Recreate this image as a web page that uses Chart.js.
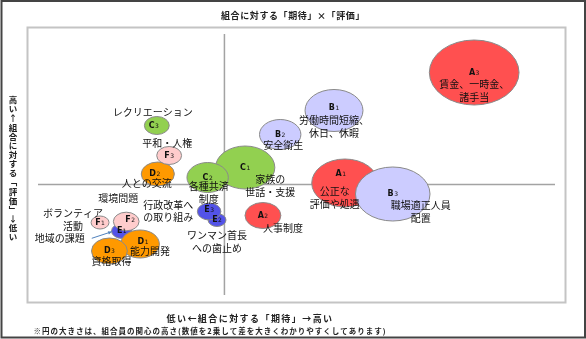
<!DOCTYPE html>
<html lang="ja">
<head>
<meta charset="utf-8">
<title>組合に対する「期待」×「評価」</title>
<script src="https://cdn.jsdelivr.net/npm/chart.js@4.4.0/dist/chart.umd.min.js"></script>
<style>
  body { margin: 0; background: #fff; }
  canvas { display: block; }
</style>
</head>
<body>
<canvas id="matrix" width="586" height="339"></canvas>
<script>
// 項目コードと名称
const codes = ['A1', 'A2', 'A3', 'B1', 'B2', 'B3', 'C1', 'C2', 'C3',
               'D1', 'D2', 'D3', 'E1', 'E2', 'E3', 'F1', 'F2', 'F3'];
const names = ['公正な\n評価や処遇', '人事制度', '賃金、一時金、\n諸手当',
               '労働時間短縮、\n休日、休暇', '安全衛生', '職場適正人員\n配置',
               '家族の\n世話・支援', '各種共済\n制度', 'レクリエーション',
               '能力開発', '人との交流', '資格取得',
               '地域の課題', 'ワンマン首長\nへの歯止め', '行政改革へ\nの取り組み',
               'ボランティア\n活動', '環境問題', '平和・人権'];
// 期待(横)・評価(縦)：平均からの差
const expectation = [24.4, 7.8, 50.6, 22.2, 11.3, 34.1, 4.2, -3.4, -13.7,
                     -17.1, -13.5, -23.3, -20.8, -1.5, -3.1, -25.2, -19.9, -11.2];
const evaluation = [0.3, -6.2, 22.4, 14.8, 10.0, -1.9, 3.4, 1.4, 11.8,
                    -11.9, 2.1, -13.3, -9.3, -7.1, -5.4, -7.6, -7.4, 5.8];
// 関心の高さ（2乗値）→ 円の大きさ
const interest = [24, 13, 32.5, 21, 15, 27, 21.5, 15, 9,
                  14, 12, 13, 7.4, 6.5, 8.5, 6.5, 9.3, 9];

const titleText = '組合に対する「期待」×「評価」';
const xTitle = '低い←組合に対する「期待」→高い';
const yTitle = ['高', 'い', '↑', '組', '合', 'に', '対', 'す', 'る', '﹁', '評', '価', '﹂', '↓', '低', 'い'];
const noteText = '※円の大きさは、組合員の関心の高さ(数値を2乗して差を大きくわかりやすくしてあります)';

// グループ色と重なり順（下から）
const groups = ['E', 'A', 'C', 'D', 'B', 'F'];
const groupColors = { A: '#ff5050', B: '#ccccff', C: '#92d050', D: '#ff9900', E: '#5353e8', F: '#ffcccc' };

// ラベル位置（円の中心からのずれ, px）
const namePos = {
  A1: [-10, 8.7], A2: [20, 12.8], A3: [0, 11.8],
  B1: [0, 9.5], B2: [3, 11], B3: [28, 11],
  C1: [25, 11.5], C2: [1, 9.2], C3: [-4, -13.6],
  D1: [10, 7.7], D2: [-11, 9.3], D3: [2, 10.7],
  E1: [-62, 7.3], E2: [0, 15], E3: [-41, -6.7],
  F1: [-27, -9.2], F2: [-8, -23.4], F3: [-2, -12.4]
};
const codePos = { A1: [-4, -9], B1: [0, -3], E3: [0, -2], F2: [4, -2], D1: [3, -2], C3: [-3, 0], D2: [-3, 0] };
const STRETCH = 1.38; // 円は横長の楕円で描く

class EllipsePoint extends Chart.PointElement {
  draw(ctx) {
    const o = this.options;
    if (this.skip || o.radius < 0.1) return;
    ctx.save();
    ctx.beginPath();
    ctx.ellipse(this.x, this.y, o.radius * STRETCH, o.radius, 0, 0, Math.PI * 2);
    ctx.fillStyle = o.backgroundColor;
    ctx.fill();
    ctx.lineWidth = o.borderWidth;
    ctx.strokeStyle = o.borderColor;
    ctx.stroke();
    ctx.restore();
  }
}
EllipsePoint.id = 'ellipsePoint';
EllipsePoint.defaults = Object.assign({}, Chart.PointElement.defaults);
EllipsePoint.defaultRoutes = Object.assign({}, Chart.PointElement.defaultRoutes);

class EllipseBubbleController extends Chart.BubbleController {}
EllipseBubbleController.id = 'ellipseBubble';
EllipseBubbleController.defaults = Object.assign({}, Chart.BubbleController.defaults, { dataElementType: 'ellipsePoint' });
EllipseBubbleController.overrides = Chart.BubbleController.overrides;

Chart.register(EllipsePoint, EllipseBubbleController);

const datasets = groups.map((g, gi) => {
  const idx = codes.map((c, i) => i).filter(i => codes[i][0] === g);
  return {
    label: g,
    codes: idx.map(i => codes[i]),
    names: idx.map(i => names[i]),
    data: idx.map(i => ({ x: expectation[i], y: evaluation[i], r: interest[i] })),
    backgroundColor: groupColors[g],
    borderColor: '#8a8a8a',
    borderWidth: 1,
    order: groups.length - gi,
    clip: false
  };
});

function spacedText(ctx, text, x, y, width, align) {
  ctx.letterSpacing = '0px';
  const natural = ctx.measureText(text).width;
  const n = [...text].length;
  ctx.letterSpacing = ((width - natural) / n) + 'px';
  ctx.textAlign = 'left';
  ctx.fillText(text, align === 'center' ? x - width / 2 : x, y);
  ctx.letterSpacing = '0px';
}

const framePlugin = {
  id: 'frame',
  beforeDraw(chart) {
    const { ctx, chartArea: a, scales } = chart;
    ctx.save();
    ctx.fillStyle = '#fff';
    ctx.fillRect(0, 0, chart.width, chart.height);
    ctx.strokeStyle = '#444';
    ctx.lineWidth = 2;
    ctx.strokeRect(1.5, 1, 583.5, 336.5);
    ctx.strokeStyle = '#c4c4c4';
    ctx.strokeRect(a.left + 0.5, a.top + 0.5, a.right - a.left, a.bottom - a.top);

    // 平均線
    const x0 = scales.x.getPixelForValue(0);
    const y0 = scales.y.getPixelForValue(0);
    ctx.strokeStyle = '#a3a3a3';
    ctx.lineWidth = 1.5;
    ctx.beginPath();
    ctx.moveTo(x0, a.top + 7);
    ctx.lineTo(x0, a.bottom - 7);
    ctx.moveTo(a.left + 11, y0);
    ctx.lineTo(a.right - 10, y0);
    ctx.stroke();

    // 見出し
    ctx.fillStyle = '#222';
    ctx.textBaseline = 'middle';
    ctx.font = 'bold 9px "Noto Sans CJK JP"';
    spacedText(ctx, titleText, 293, 16, 144, 'center');
    spacedText(ctx, xTitle, 250, 318.5, 167, 'center');
    ctx.font = 'bold 7.5px "Noto Sans CJK JP"';
    spacedText(ctx, noteText, 33.5, 331, 353, 'left');
    ctx.font = 'bold 8.5px "Noto Sans CJK JP"';
    ctx.textAlign = 'center';
    yTitle.forEach((ch, i) => ctx.fillText(ch, 13, 100 + i * 9.13));
    ctx.restore();
  }
};

function drawCode(ctx, code, x, y) {
  const letter = code[0], digit = code.slice(1);
  ctx.font = 'bold 8px "DejaVu Sans"';
  const lw = ctx.measureText(letter).width;
  ctx.font = '6px "DejaVu Sans"';
  const dw = ctx.measureText(digit).width;
  const start = x - (lw + dw + 0.5) / 2;
  ctx.textAlign = 'left';
  ctx.font = 'bold 8px "DejaVu Sans"';
  ctx.fillText(letter, start, y);
  ctx.font = '6px "DejaVu Sans"';
  ctx.fillText(digit, start + lw + 0.5, y + 0.5);
}

const labelPlugin = {
  id: 'bubbleLabels',
  afterDatasetsDraw(chart) {
    const ctx = chart.ctx;
    ctx.save();
    ctx.fillStyle = '#111';
    ctx.textBaseline = 'middle';
    chart.data.datasets.forEach((ds, di) => {
      chart.getDatasetMeta(di).data.forEach((el, i) => {
        const code = ds.codes[i];
        const c = codePos[code] || [0, 0];
        drawCode(ctx, code, el.x + c[0], el.y + c[1]);
        const p = namePos[code];
        ctx.font = '10px "Noto Sans CJK JP"';
        ctx.textAlign = 'center';
        ds.names[i].split('\n').forEach((line, k) => {
          ctx.fillText(line, el.x + p[0], el.y + p[1] + k * 12.8);
        });
        if (code === 'E1') {
          // 地域の課題 → E1 の矢印
          const x1 = el.x - 30, y1 = el.y + 7.3, x2 = el.x - 10, y2 = el.y + 0.7;
          const ang = Math.atan2(y2 - y1, x2 - x1);
          ctx.strokeStyle = '#4f81bd';
          ctx.fillStyle = '#4f81bd';
          ctx.lineWidth = 1;
          ctx.beginPath();
          ctx.moveTo(x1, y1);
          ctx.lineTo(x2, y2);
          ctx.stroke();
          ctx.beginPath();
          ctx.moveTo(x2, y2);
          ctx.lineTo(x2 - 4 * Math.cos(ang - 0.45), y2 - 4 * Math.sin(ang - 0.45));
          ctx.lineTo(x2 - 4 * Math.cos(ang + 0.45), y2 - 4 * Math.sin(ang + 0.45));
          ctx.closePath();
          ctx.fill();
          ctx.fillStyle = '#111';
        }
      });
    });
    ctx.restore();
  }
};

new Chart(document.getElementById('matrix'), {
  type: 'ellipseBubble',
  data: { datasets },
  options: {
    responsive: false,
    animation: false,
    events: [],
    layout: { autoPadding: false, padding: { left: 27, right: 21, top: 27, bottom: 37 } },
    scales: {
      x: { type: 'linear', min: -40, max: 69, display: false },
      y: { type: 'linear', min: -23.5, max: 31.5, display: false }
    },
    plugins: {
      legend: { display: false },
      tooltip: { enabled: false }
    }
  },
  plugins: [framePlugin, labelPlugin]
});
</script>
</body>
</html>
